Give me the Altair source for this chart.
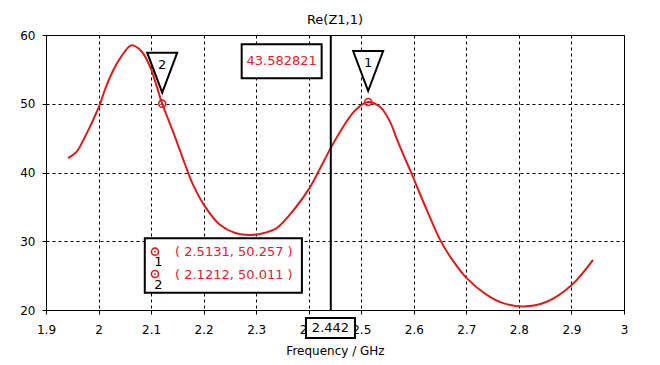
import altair as alt
import pandas as pd

# ---- curve data ----
freq = [1.942, 1.958, 1.971, 1.984, 1.9965, 2.003, 2.012, 2.025, 2.041, 2.063,
        2.082, 2.098, 2.1212, 2.142, 2.155, 2.1645, 2.180, 2.203, 2.231, 2.260,
        2.288, 2.315, 2.339, 2.374, 2.402, 2.421, 2.442, 2.466, 2.489, 2.5131,
        2.5356, 2.5546, 2.567, 2.580, 2.596, 2.610, 2.625, 2.650, 2.675, 2.701,
        2.739, 2.770, 2.808, 2.853, 2.900, 2.941]
rez = [42.1, 43.0, 44.7, 46.7, 48.8, 50.0, 52.0, 54.4, 56.6, 58.5,
       57.6, 55.4, 50.011, 45.9, 43.2, 41.2, 38.2, 35.0, 32.4, 31.2,
       30.9, 31.2, 31.9, 34.8, 37.8, 40.5, 43.58, 46.7, 49.1, 50.257,
       49.55, 47.4, 45.0, 42.6, 39.8, 37.2, 34.5, 30.2, 27.1, 24.6,
       22.2, 21.0, 20.5, 21.2, 23.6, 27.3]

# ---- markers ----
marker_id = ["1", "2"]
marker_f = [2.5131, 2.1212]
marker_v = [50.257, 50.011]
marker_text = ["( 2.5131, 50.257 )", "( 2.1212, 50.011 )"]

# ---- cursor ----
cursor_f = 2.442
cursor_label = "2.442"
cursor_value = "43.582821"

x_ticks = [1.9, 2.0, 2.1, 2.2, 2.3, 2.4, 2.5, 2.6, 2.7, 2.8, 2.9, 3.0]
y_ticks = [20, 25, 30, 35, 40, 45, 50, 55, 60]

# annotation boxes (data coordinates)
legend_box = dict(x=2.088, x2=2.387, y=30.43, y2=22.52)
legend_icon_x = 2.1074
legend_icon_y = [28.48, 25.24]
legend_num_x = 2.114
legend_num_y = [27.0, 23.65]
legend_text_x = 2.1455
legend_text_y = [28.44, 25.1]
readout_box = dict(x=2.2724, x2=2.4246, y=58.65, y2=53.70)
readout_pos = (2.3485, 56.18)
cursor_box = dict(x=2.3948, x2=2.488, y=18.84, y2=15.93)
cursor_text_y = 17.35

RED_LINE = "#d91c1c"
RED_TEXT = "#e0202a"
FONT = "DejaVu Sans"

xs = alt.Scale(domain=[1.9, 3.0], nice=False, zero=False)
ys = alt.Scale(domain=[20, 60], nice=False, zero=False)

curve = pd.DataFrame({"f": freq, "v": rez})
mk = pd.DataFrame({"id": marker_id, "f": marker_f, "v": marker_v,
                   "txt": marker_text, "iy": legend_icon_y, "ny": legend_num_y,
                   "ty": legend_text_y})

line = alt.Chart(curve).mark_line(color=RED_LINE, strokeWidth=2, interpolate="catmull-rom").encode(
    x=alt.X("f:Q", scale=xs, title="Frequency / GHz",
            axis=alt.Axis(values=x_ticks, format=".1~f", grid=True, gridDash=[3, 3],
                          gridColor="black", gridOpacity=1, tickColor="black", domainColor="black",
                          labelColor="black", titleColor="black", tickSize=4, labelPadding=10,
                          labelFlush=False, labelFont=FONT, labelFontSize=12, titleFont=FONT,
                          titleFontSize=12, titleFontWeight="normal", titlePadding=10)),
    y=alt.Y("v:Q", scale=ys, title=None,
            axis=alt.Axis(values=y_ticks, grid=True, gridDash=[3, 3], gridColor="black",
                          gridOpacity=1, tickColor="black", domainColor="black", labelColor="black",
                          tickSize=4, labelPadding=7, labelFlush=False, labelFont=FONT,
                          labelFontSize=12)),
)

tri_path = "M-0.75,-1L0.75,-1L0,1Z"
triangles = alt.Chart(mk).mark_point(shape=tri_path, size=1600, filled=True, fill="white",
                                     stroke="black", strokeWidth=2, opacity=1, yOffset=-31).encode(
    x=alt.X("f:Q", scale=xs), y=alt.Y("v:Q", scale=ys))
tri_text = alt.Chart(mk).mark_text(font=FONT, fontSize=13, color="black", yOffset=-39).encode(
    x=alt.X("f:Q", scale=xs), y=alt.Y("v:Q", scale=ys), text="id:N")

rings = alt.Chart(mk).mark_point(shape="circle", size=50, filled=False, color=RED_LINE,
                                 strokeWidth=1.6, opacity=1).encode(
    x=alt.X("f:Q", scale=xs), y=alt.Y("v:Q", scale=ys))
dots = alt.Chart(mk).mark_point(shape="circle", size=3, filled=True, color=RED_LINE, opacity=1).encode(
    x=alt.X("f:Q", scale=xs), y=alt.Y("v:Q", scale=ys))

cur = pd.DataFrame({"f": [cursor_f], "y1": [20], "y2": [60]})
cursor_rule = alt.Chart(cur).mark_rule(color="black", strokeWidth=2).encode(
    x=alt.X("f:Q", scale=xs), y=alt.Y("y1:Q", scale=ys), y2="y2:Q")

def box(d):
    return alt.Chart(pd.DataFrame([d])).mark_rect(fill="white", stroke="black", strokeWidth=2).encode(
        x=alt.X("x:Q", scale=xs), x2="x2:Q", y=alt.Y("y:Q", scale=ys), y2="y2:Q")

readout_b = box(readout_box)
readout_t = alt.Chart(pd.DataFrame({"f": [readout_pos[0]], "v": [readout_pos[1]], "t": [cursor_value]})).mark_text(
    font=FONT, fontSize=13, color=RED_TEXT).encode(
    x=alt.X("f:Q", scale=xs), y=alt.Y("v:Q", scale=ys), text="t:N")

cursor_b = box(cursor_box)
cursor_t = alt.Chart(pd.DataFrame({"f": [(cursor_box["x"] + cursor_box["x2"]) / 2], "v": [cursor_text_y],
                                   "t": [cursor_label]})).mark_text(
    font=FONT, fontSize=13, color="black").encode(
    x=alt.X("f:Q", scale=xs), y=alt.Y("v:Q", scale=ys), text="t:N")

legend_b = box(legend_box)
leg_rings = alt.Chart(mk).mark_point(shape="circle", size=50, filled=False, color=RED_LINE,
                                     strokeWidth=1.6, opacity=1).encode(
    x=alt.X("f2:Q", scale=xs), y=alt.Y("iy:Q", scale=ys)).transform_calculate(f2=str(legend_icon_x))
leg_dots = alt.Chart(mk).mark_point(shape="circle", size=3, filled=True, color=RED_LINE, opacity=1).encode(
    x=alt.X("f2:Q", scale=xs), y=alt.Y("iy:Q", scale=ys)).transform_calculate(f2=str(legend_icon_x))
leg_nums = alt.Chart(mk).mark_text(font=FONT, fontSize=13, color="black").encode(
    x=alt.X("f2:Q", scale=xs), y=alt.Y("ny:Q", scale=ys), text="id:N").transform_calculate(f2=str(legend_num_x))
leg_text = alt.Chart(mk).mark_text(font=FONT, fontSize=13, color=RED_TEXT, align="left").encode(
    x=alt.X("f2:Q", scale=xs), y=alt.Y("ty:Q", scale=ys), text="txt:N").transform_calculate(f2=str(legend_text_x))

chart = alt.layer(
    line, triangles, tri_text, cursor_rule, rings, dots,
    readout_b, readout_t, cursor_b, cursor_t,
    legend_b, leg_rings, leg_dots, leg_nums, leg_text,
).properties(
    width=578, height=275,
    title=alt.TitleParams("Re(Z1,1)", font=FONT, fontSize=13, fontWeight="normal", color="black",
                          anchor="middle", frame="group", offset=2),
    autosize=alt.AutoSizeParams(type="none"),
    padding={"left": 38, "top": 27, "right": 14, "bottom": 49},
    background="white",
).configure_view(stroke="black", strokeWidth=1)

chart.save("out.html", embed_options={"renderer": "svg", "actions": False})
